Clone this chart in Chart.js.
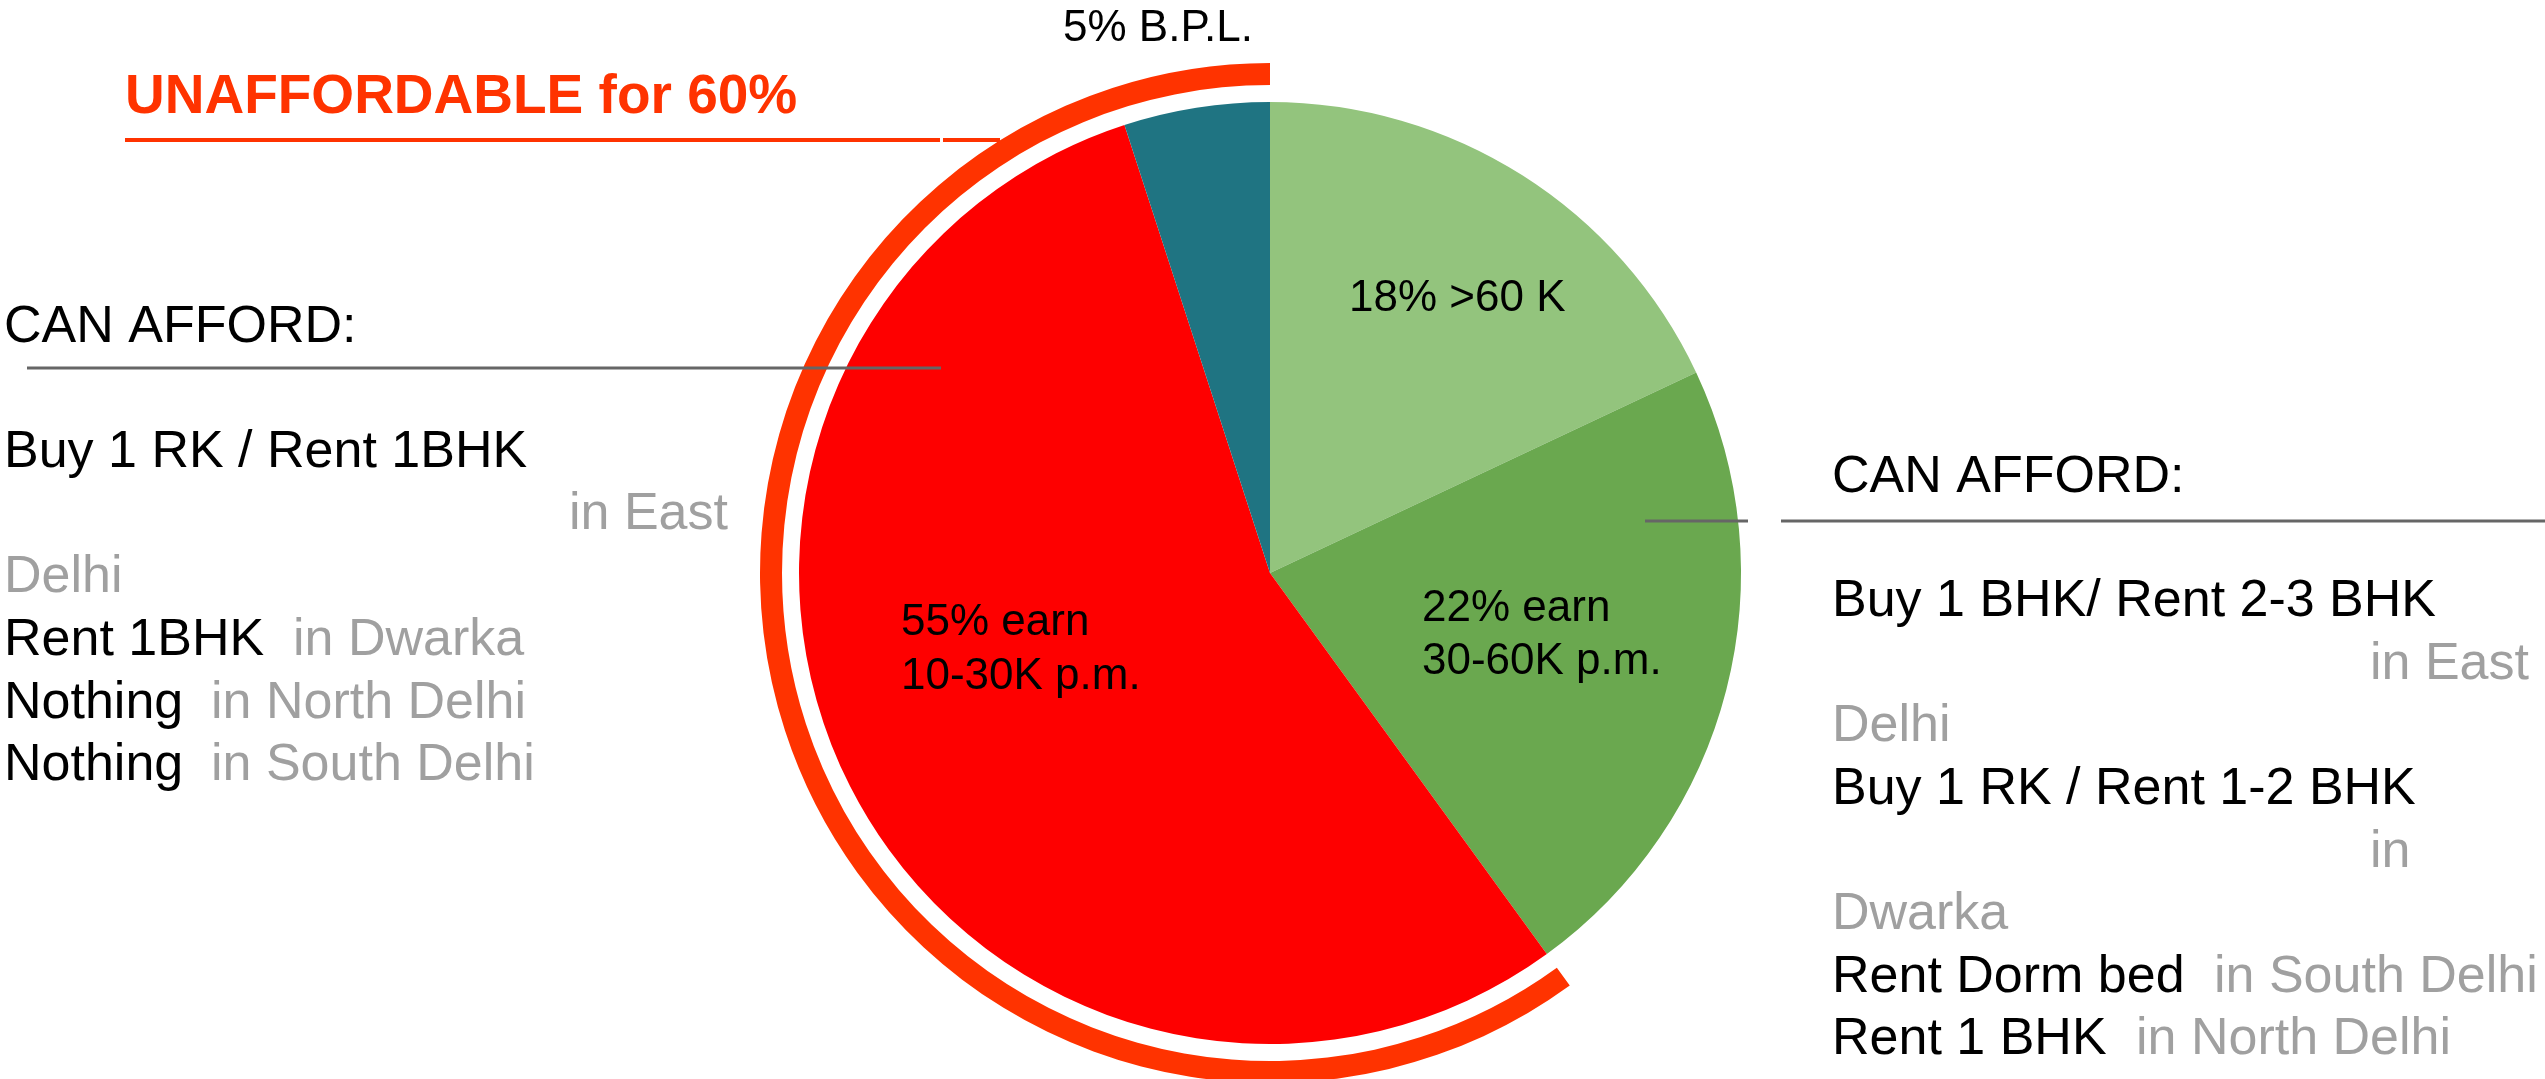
<!DOCTYPE html>
<html>
<head>
<meta charset="utf-8">
<script src="https://cdn.jsdelivr.net/npm/chart.js@4.4.1/dist/chart.umd.min.js"></script>
<style>
  html, body { margin: 0; padding: 0; background: #ffffff; overflow: hidden; }
  #wrap { position: relative; width: 2545px; height: 1079px; }
  canvas { display: block; }
</style>
</head>
<body>
<div id="wrap"><canvas id="c" width="2545" height="1079"></canvas></div>
<script>
// ---- data ----
const categories = ['>60K p.m.', '30-60K p.m.', '10-30K p.m.', 'B.P.L.'];
const shares = [18, 22, 55, 5];
const sliceColors = ['#93C47D', '#6AA84F', '#FE0000', '#1F7482'];
const affordSplit = [40, 60];          // affordable / unaffordable share for the outer ring
const affordColors = ['rgba(0,0,0,0)', '#FF3300'];
const sliceLabels = [
  ['18% >60 K'],
  ['22% earn', '30-60K p.m.'],
  ['55% earn', '10-30K p.m.'],
  ['5% B.P.L.']
];
const headline = 'UNAFFORDABLE for 60%';
const leftBlock = [
  [['CAN AFFORD:', '#000']],
  [['Buy 1 RK / Rent 1BHK', '#000']],
  [['in East', 'gray']],
  [['Delhi', 'gray']],
  [['Rent 1BHK', '#000'], ['in Dwarka', 'gray']],
  [['Nothing', '#000'], ['in North Delhi', 'gray']],
  [['Nothing', '#000'], ['in South Delhi', 'gray']]
];
const rightBlock = [
  [['CAN AFFORD:', '#000']],
  [['Buy 1 BHK/ Rent 2-3 BHK', '#000']],
  [['in East', 'gray']],
  [['Delhi', 'gray']],
  [['Buy 1 RK / Rent 1-2 BHK', '#000']],
  [['in', 'gray']],
  [['Dwarka', 'gray']],
  [['Rent Dorm bed', '#000'], ['in South Delhi', 'gray']],
  [['Rent 1 BHK', '#000'], ['in North Delhi', 'gray']]
];

const GRAY = '#a0a0a0';
const FONT = '"Liberation Sans", Arial, Helvetica, sans-serif';

function txt(ctx, s, x, y, size, color, bold) {
  ctx.font = (bold ? 'bold ' : '') + size + 'px ' + FONT;
  ctx.fillStyle = color === 'gray' ? GRAY : color;
  ctx.textAlign = 'left';
  ctx.textBaseline = 'alphabetic';
  ctx.fillText(s, x, y);
}
function line(ctx, x1, y1, x2, y2, w, c) {
  ctx.beginPath();
  ctx.moveTo(x1, y1); ctx.lineTo(x2, y2);
  ctx.lineWidth = w; ctx.strokeStyle = c; ctx.stroke();
}

const annotations = {
  id: 'annotations',
  afterDraw(chart) {
    const ctx = chart.ctx;
    ctx.save();
    // headline + red leader
    txt(ctx, headline, 125, 113, 55, '#FF3300', true);
    line(ctx, 125, 140, 940, 140, 4, '#FF3300');
    line(ctx, 943, 140, 1000, 140, 4, '#FF3300');
    // slice labels
    txt(ctx, sliceLabels[3][0], 1063, 41, 44, '#000');
    txt(ctx, sliceLabels[0][0], 1349, 311, 44, '#000');
    txt(ctx, sliceLabels[1][0], 1422, 621, 44, '#000');
    txt(ctx, sliceLabels[1][1], 1422, 674, 44, '#000');
    txt(ctx, sliceLabels[2][0], 901, 635, 44, '#000');
    txt(ctx, sliceLabels[2][1], 901, 689, 44, '#000');

    // left block
    const lx = [4, 4, 569, 4, 4, 4, 4];
    const ly = [342, 467, 529, 592, 655, 718, 780];
    const lx2 = [0, 0, 0, 0, 293, 211, 211];
    leftBlock.forEach((runs, i) => {
      txt(ctx, runs[0][0], lx[i], ly[i], 52, runs[0][1]);
      if (runs[1]) txt(ctx, runs[1][0], lx2[i], ly[i], 52, runs[1][1]);
    });
    line(ctx, 27, 368, 941, 368, 3, '#666666');

    // right block
    const rx = [1832, 1832, 2370, 1832, 1832, 2370, 1832, 1832, 1832];
    const ry = [492, 616, 679, 741, 804, 867, 929, 992, 1054];
    const rx2 = [0, 0, 0, 0, 0, 0, 0, 2214, 2136];
    rightBlock.forEach((runs, i) => {
      txt(ctx, runs[0][0], rx[i], ry[i], 52, runs[0][1]);
      if (runs[1]) txt(ctx, runs[1][0], rx2[i], ry[i], 52, runs[1][1]);
    });
    line(ctx, 1645, 521, 1748, 521, 3, '#666666');
    line(ctx, 1781, 521, 2545, 521, 3, '#666666');
    ctx.restore();
  }
};

new Chart(document.getElementById('c'), {
  type: 'doughnut',
  data: {
    labels: categories,
    datasets: [
      { label: 'Affordability', data: affordSplit, backgroundColor: affordColors, borderWidth: 0, weight: 22 },
      { label: 'gap', data: [1], backgroundColor: ['rgba(0,0,0,0)'], borderWidth: 0, weight: 17 },
      { label: 'Income share', data: shares, backgroundColor: sliceColors, borderWidth: 0, weight: 471 }
    ]
  },
  options: {
    responsive: false,
    animation: false,
    events: [],
    cutout: 0,
    radius: 510,
    rotation: 0,
    layout: { padding: { top: 67, bottom: 0, left: 0, right: 5 } },
    plugins: { legend: { display: false }, tooltip: { enabled: false } }
  },
  plugins: [annotations]
});
</script>
</body>
</html>
